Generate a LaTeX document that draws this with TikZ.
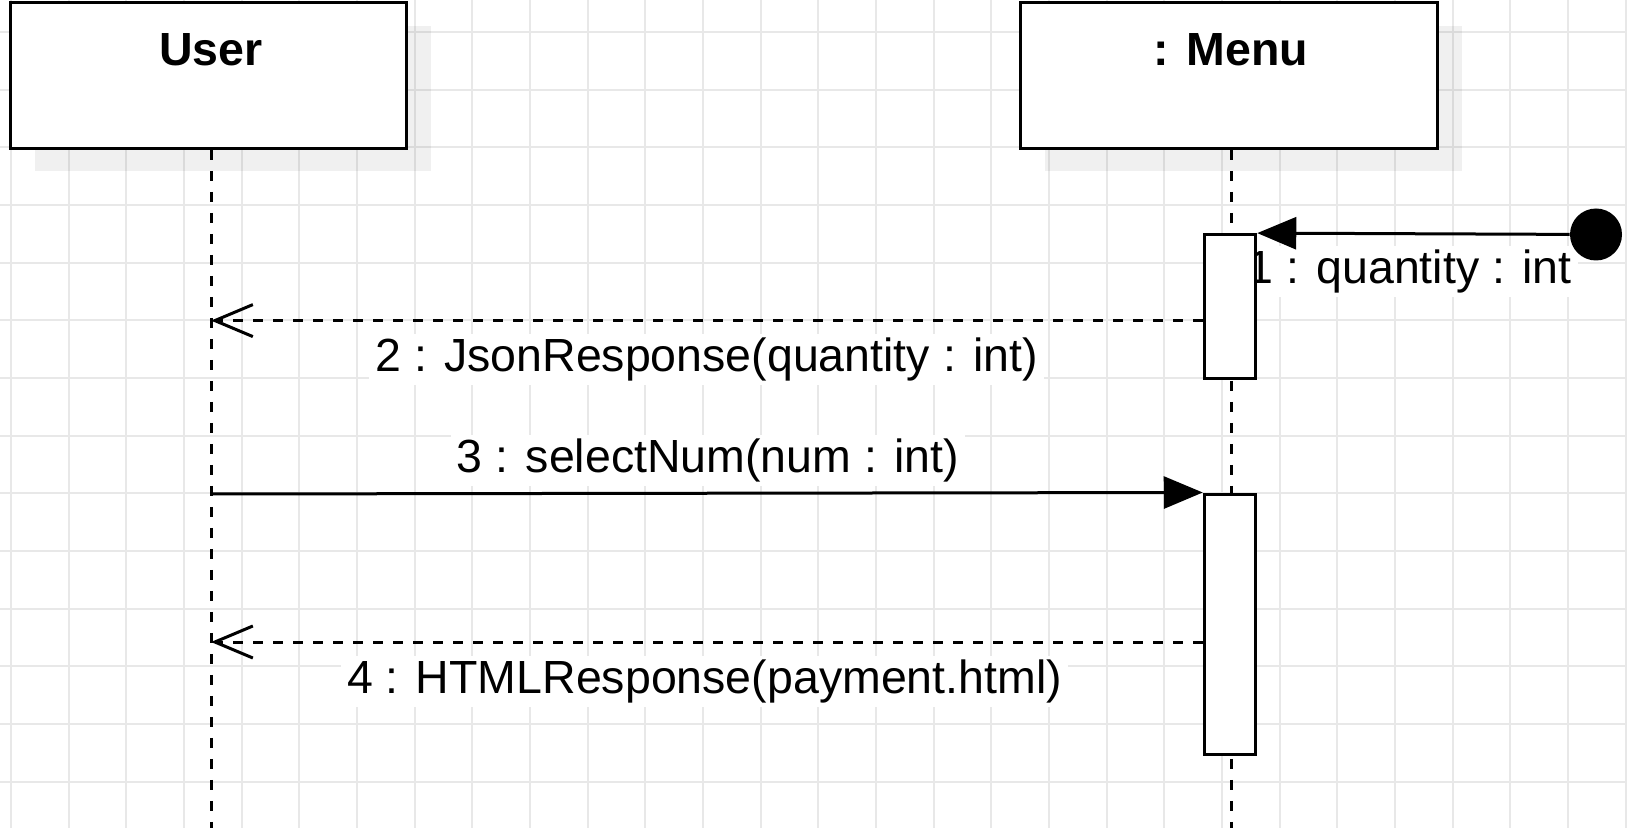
\documentclass[tikz,border=0pt]{standalone}
\usepackage{fontspec}
\setmainfont{Liberation Sans}
\usetikzlibrary{arrows.meta,calc}
\begin{document}
\begin{tikzpicture}[x=0.5pt,y=-0.5pt,
  gridline/.style={draw=black!9, line width=1pt},
  lifebox/.style={draw=black, fill=white, line width=1.5pt, minimum height=72.7pt, inner sep=0pt},
  shadowbox/.style={fill=black, fill opacity=0.06, minimum height=72.7pt, inner sep=0pt},
  title/.style={font=\fontsize{23.25}{28}\selectfont\bfseries, anchor=base, inner sep=0pt},
  lifeline/.style={line width=1.5pt, dash pattern=on 5pt off 5.5pt},
  actbox/.style={draw=black, fill=white, line width=1.5pt, minimum width=25.75pt, inner sep=0pt},
  msglabel/.style={font=\fontsize{23.25}{28}\selectfont, fill=white, anchor=base, inner xsep=3pt, inner ysep=2pt},
  call/.style={line width=1.5pt, -{Triangle[length=19.5pt,width=16pt]}},
  ret/.style={line width=1.5pt, dash pattern=on 5pt off 5pt, -{Straight Barb[length=19pt,width=16pt]}},
]
\useasboundingbox (0,0) rectangle (1627,828);
\fill[white] (0,0) rectangle (1627,828);
% grid
\foreach \k in {0,...,28} \draw[gridline] ({11+57.67*\k},0) -- ({11+57.67*\k},828);
\foreach \k in {0,...,13} \draw[gridline] (0,{32+57.67*\k}) -- (1627,{32+57.67*\k});
% shadows
\node[shadowbox, minimum width=198pt] (usershadow) at (232.5,98.7) {};
\node[shadowbox, minimum width=208.5pt] (menushadow) at (1253,98.7) {};
% lifeline heads
\node[lifebox, minimum width=198pt] (user) at (208.5,75.7) {};
\node[title] (usert) at (211,65.7) {User};
\node[lifebox, minimum width=208.5pt] (menu) at (1228.5,75.7) {};
\node[title] (menut) at (1231,65.7) {: Menu};
% lifelines
\coordinate (uend) at (211,828);
\coordinate (mend) at (1231,828);
\draw[lifeline] (user.south -| uend) -- (uend);
\draw[lifeline] (menu.south -| mend) -- (mend);
% labels
\node[msglabel] (l1) at (1409.6,283.3) {1 : quantity : int};
\node[msglabel] (l2) at (706.6,371.7) {2 : JsonResponse(quantity : int)};
\node[msglabel] (l3) at (708,472.7) {3 : selectNum(num : int)};
\node[msglabel] (l4) at (704.5,693.3) {4 : HTMLResponse(payment.html)};
% activations
\node[actbox, minimum height=72pt] (act1) at (1230,306.6) {};
\node[actbox, minimum height=130pt] (act2) at (1230,624) {};
% found message
\node[circle, fill=black, minimum size=26pt, inner sep=0pt] (start) at (1596,234.5) {};
\draw[call] (start) -- (act1.north east);
% messages
\coordinate (u2) at (211,320.6);
\coordinate (u3) at (211,494);
\coordinate (u4) at (211,642);
\draw[ret] (act1.west |- u2) -- (u2);
\draw[call] (u3) -- (act2.north west);
\draw[ret] (act2.west |- u4) -- (u4);
\end{tikzpicture}
\end{document}
